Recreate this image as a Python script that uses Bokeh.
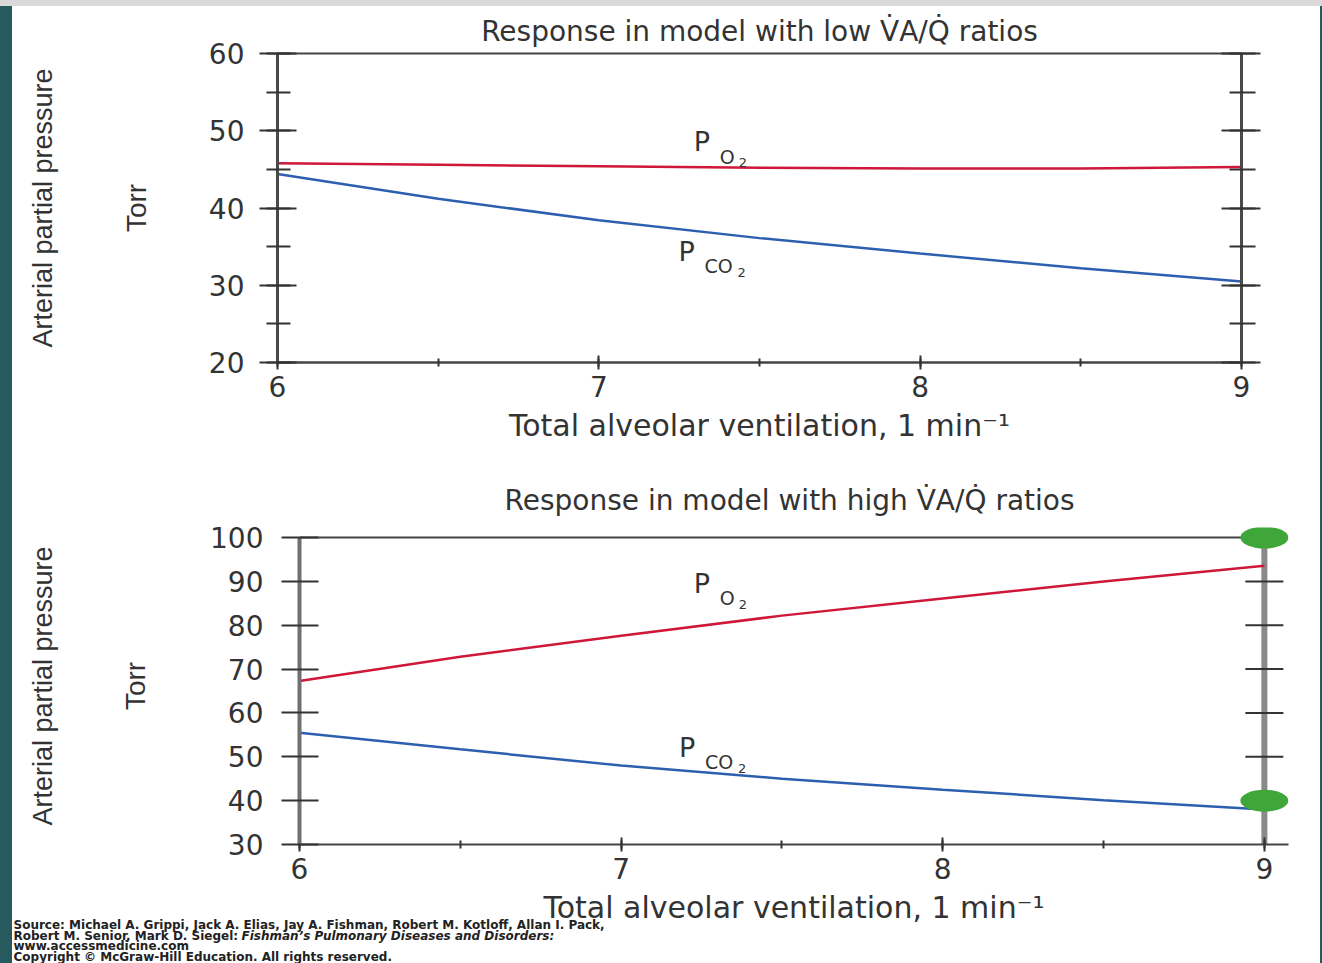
from bokeh.plotting import figure
from bokeh.models import LinearAxis, SingleIntervalTicker, FixedTicker, Range1d, Label, Title, Spacer
from bokeh.layouts import row
from bokeh.embed import file_html
from bokeh.resources import INLINE

# ---------------- data ----------------
ventilation = [6, 6.5, 7, 7.5, 8, 8.5, 9]
low_po2 = [45.8, 45.6, 45.4, 45.2, 45.1, 45.1, 45.3]
low_pco2 = [44.4, 41.2, 38.4, 36.1, 34.1, 32.2, 30.5]
high_po2 = [67.3, 72.8, 77.6, 82.2, 86.1, 90.0, 93.6]
high_pco2 = [55.5, 51.7, 48.0, 45.0, 42.5, 40.1, 38.0]
marked_y = [100, 40]
low_y_ticks = [20, 30, 40, 50, 60]
high_y_ticks = [30, 40, 50, 60, 70, 80, 90, 100]
x_ticks = [6, 7, 8, 9]

title_low = "Response in model with low V\u0307A/Q\u0307 ratios"
title_high = "Response in model with high  V\u0307A/Q\u0307 ratios"
x_label = "Total alveolar ventilation, 1 min\u207b\u00b9"
y_label_outer = "Arterial partial pressure"
y_label_inner = "Torr"
footer = [
    "Source: Michael A. Grippi, Jack A. Elias, Jay A. Fishman, Robert M. Kotloff, Allan I. Pack,",
    "Robert M. Senior, Mark D. Siegel: ",
    "www.accessmedicine.com",
    "Copyright \u00a9 McGraw-Hill Education. All rights reserved.",
]
footer_italic = "Fishman\u2019s Pulmonary Diseases and Disorders:"

RED = "#cf1739"
BLUE = "#2d5fb0"
GREEN = "#3fa63a"
TXT = "#333333"
FONT = "DejaVu Sans"
NARROW = "Liberation Sans"


def base_fig(w, h, xr, yr, bl, br, bt, bb, **kw):
    p = figure(width=w, height=h, x_range=xr, y_range=yr, output_backend="svg",
               toolbar_location=None, x_axis_location=None, y_axis_location=None,
               min_border_left=bl, min_border_right=br, min_border_top=bt,
               min_border_bottom=bb, background_fill_color="white",
               border_fill_color="white", **kw)
    p.xgrid.visible = False
    p.ygrid.visible = False
    return p


def style_axis(ax):
    ax.major_label_text_font = FONT
    ax.major_label_text_font_size = "28px"
    ax.major_label_text_color = TXT
    ax.axis_label_text_font_style = "normal"
    ax.axis_label_text_color = TXT
    ax.major_tick_line_color = "#333333"
    ax.minor_tick_line_color = "#333333"
    ax.major_tick_line_width = 2
    ax.minor_tick_line_width = 2


def y_axes(p, ticker, line_color, line_width, label_standoff, inner_standoff,
           outer_standoff, bounds=None):
    ax = LinearAxis(ticker=ticker, axis_line_color=line_color, axis_line_width=line_width,
                    major_tick_in=19, major_tick_out=18, minor_tick_in=13, minor_tick_out=11,
                    major_label_standoff=label_standoff, axis_label=y_label_inner,
                    axis_label_text_font=NARROW, axis_label_text_font_size="28px",
                    axis_label_standoff=inner_standoff)
    if bounds:
        ax.bounds = bounds
    style_axis(ax)
    p.add_layout(ax, "left")
    outer = LinearAxis(ticker=FixedTicker(ticks=[]), axis_line_color=None,
                       axis_label=y_label_outer,
                       axis_label_text_font=NARROW, axis_label_text_font_size="27px",
                       axis_label_standoff=outer_standoff)
    style_axis(outer)
    outer.major_tick_line_color = None
    outer.minor_tick_line_color = None
    outer.major_label_text_color = None
    p.add_layout(outer, "left")


def x_axis(p):
    ax = LinearAxis(ticker=SingleIntervalTicker(interval=1, num_minor_ticks=2),
                    axis_line_color="#444444", axis_line_width=2,
                    major_tick_in=7, major_tick_out=7, minor_tick_in=4, minor_tick_out=4,
                    major_label_standoff=6, axis_label=x_label,
                    axis_label_text_font=FONT, axis_label_text_font_size="30px",
                    axis_label_standoff=8)
    style_axis(ax)
    p.add_layout(ax, "below")


def sub_label(p, x, y, main, sub, num):
    sub_w = {"O": 15, "CO": 29}[sub]
    p.add_layout(Label(x=x, y=y, text=main, text_font=FONT, text_font_size="27px",
                       text_color=TXT, text_baseline="middle"))
    p.add_layout(Label(x=x, y=y, x_offset=26, y_offset=-15, text=sub, text_font=FONT,
                       text_font_size="19px", text_color=TXT, text_baseline="middle"))
    p.add_layout(Label(x=x, y=y, x_offset=26 + sub_w + 4, y_offset=-21, text=num,
                       text_font=FONT, text_font_size="13px", text_color=TXT,
                       text_baseline="middle"))


# ---------------- top chart ----------------
p1 = base_fig(1308, 464, Range1d(ventilation[0], ventilation[-1]),
              Range1d(low_y_ticks[0], low_y_ticks[-1]), 265, 79, 47, 108)
p1.outline_line_color = "#444444"
p1.outline_line_width = 2
p1.add_layout(Title(text=title_low, align="center", text_font=FONT, text_font_size="28px",
                    text_font_style="normal", text_color=TXT, standoff=12), "above")
y_axes(p1, SingleIntervalTicker(interval=10, num_minor_ticks=2), "#4a4a4a", 3, 15, 54, 60)
x_axis(p1)
right1 = LinearAxis(ticker=SingleIntervalTicker(interval=10, num_minor_ticks=2),
                    axis_line_color="#4a4a4a", axis_line_width=3, major_tick_in=20,
                    major_tick_out=19, minor_tick_in=12, minor_tick_out=14)
style_axis(right1)
right1.major_label_text_color = None
p1.add_layout(right1, "right")

p1.line(ventilation, low_po2, line_color=RED, line_width=2.5)
p1.line(ventilation, low_pco2, line_color=BLUE, line_width=2.5)
sub_label(p1, 7.295, 48.6, "P", "O", "2")
sub_label(p1, 7.248, 34.4, "P", "CO", "2")

# ---------------- bottom chart ----------------
p2 = base_fig(1308, 493, Range1d(ventilation[0], 9.075),
              Range1d(high_y_ticks[0], 102.3), 287, 32, 57, 119)
p2.outline_line_color = None
p2.add_layout(Title(text=title_high, align="center", offset=30, text_font=FONT,
                    text_font_size="28px", text_font_style="normal", text_color=TXT,
                    standoff=21), "above")
y_axes(p2, SingleIntervalTicker(interval=10, num_minor_ticks=0), "#707070", 4, 18, 56, 60,
       bounds=(high_y_ticks[0], high_y_ticks[-1]))
x_axis(p2)

# frame top line and right "axis" at x = 9
p2.segment(x0=[ventilation[0]], y0=[high_y_ticks[-1]], x1=[ventilation[-1]],
           y1=[high_y_ticks[-1]], line_color="#444444", line_width=2)
p2.segment(x0=[ventilation[-1]], y0=[high_y_ticks[0]], x1=[ventilation[-1]],
           y1=[high_y_ticks[-1]], line_color="#8a8a8a", line_width=6)
p2.scatter(x=[ventilation[-1]] * (len(high_y_ticks) - 2), y=high_y_ticks[1:-1],
           marker="dash", size=38, line_color="#333333", line_width=2)

p2.line(ventilation, high_po2, line_color=RED, line_width=2.5)
p2.line(ventilation, high_pco2, line_color=BLUE, line_width=2.5)
p2.ellipse(x=[ventilation[-1]] * len(marked_y), y=marked_y, width=48, height=22,
           width_units="screen", height_units="screen", fill_color=GREEN, line_color=None)
sub_label(p2, 7.226, 89.6, "P", "O", "2")
sub_label(p2, 7.18, 52.2, "P", "CO", "2")

# ---------------- footer (own transparent canvas, pulled up over the page bottom) -------
pf = figure(width=1300, height=46, x_range=Range1d(0, 1), y_range=Range1d(0, 1),
            output_backend="svg", toolbar_location=None, x_axis_location=None,
            y_axis_location=None, min_border=0, outline_line_color=None,
            background_fill_alpha=0, border_fill_alpha=0,
            margin=(-46, 0, 0, 12), styles={"z-index": "5"})
pf.xgrid.visible = False
pf.ygrid.visible = False
fy = [32, 21, 11, 0]
for i, t in enumerate(footer):
    pf.add_layout(Label(x=1, y=fy[i], x_units="screen", y_units="screen", text=t,
                        text_font=FONT, text_font_size="12px",
                        text_font_style="bold", text_color="#222222"))
pf.add_layout(Label(x=1 + 228, y=fy[1], x_units="screen", y_units="screen",
                    text=footer_italic, text_font=FONT, text_font_size="12px",
                    text_font_style="bold italic", text_color="#222222"))

# ---------------- page ----------------
def strip(w, h, color):
    return Spacer(width=w, height=h, margin=0, styles={"background-color": color})


gray = strip(1322, 6, "#d9d9d9")
top_row = row(strip(12, 464, "#275a5c"), p1, strip(2, 464, "#275a5c"), spacing=0)
bottom_row = row(strip(12, 493, "#275a5c"), p2, strip(2, 493, "#275a5c"), spacing=0)

open("out.html", "w").write(file_html([gray, top_row, bottom_row, pf], INLINE))
